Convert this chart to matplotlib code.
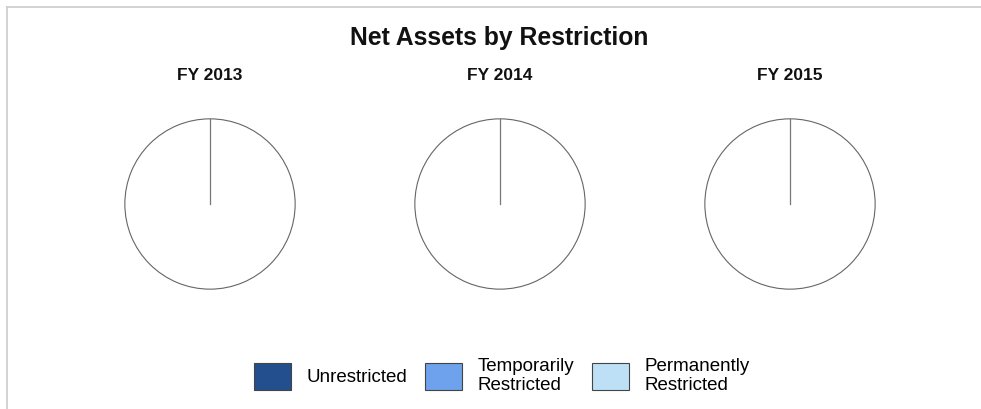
import numpy as np
import matplotlib
matplotlib.use("Agg")
import matplotlib.pyplot as plt
from matplotlib.patches import Patch
from matplotlib.lines import Line2D

plt.rcParams['font.family'] = ['Liberation Sans', 'DejaVu Sans']

# ---- data ----
years = ['FY 2013', 'FY 2014', 'FY 2015']
categories = ['Unrestricted', 'Temporarily\nRestricted', 'Permanently\nRestricted']
unrestricted = [0, 0, 0]
temporarily_restricted = [0, 0, 0]
permanently_restricted = [0, 0, 0]
colors = ['#234f8e', '#6ea2ec', '#bee0f7']

W, H = 981, 409
fig = plt.figure(figsize=(W / 100, H / 100), dpi=100)

# frame lines (top and left)
fig.add_artist(Line2D([7 / W, 1], [1 - 7 / H, 1 - 7 / H], color='#cccccc', lw=1.2))
fig.add_artist(Line2D([7 / W, 7 / W], [0, 1 - 7 / H], color='#cccccc', lw=1.2))

fig.text(499 / W, 1 - 38 / H, 'Net Assets by Restriction', ha='center', va='center',
         fontsize=17.8, fontweight='bold', color='#111111')

centers = [210, 500, 790]
cy, r = 204, 86
for i, (yr, cx) in enumerate(zip(years, centers)):
    ax = fig.add_axes([(cx - r) / W, (H - cy - r) / H, 2 * r / W, 2 * r / H])
    vals = [unrestricted[i], temporarily_restricted[i], permanently_restricted[i]]
    if sum(vals) > 0:
        ax.pie(vals, colors=colors, startangle=90, counterclock=False,
               wedgeprops=dict(edgecolor='#555555', linewidth=0.8))
    else:
        wedges, _ = ax.pie([1], colors=['white'], startangle=90,
                           wedgeprops=dict(edgecolor='#666666', linewidth=0.8))
        w = wedges[0]
        (x0, y0), rr, th = w.center, w.r, np.deg2rad(w.theta1)
        ax.plot([x0, x0 + rr * np.cos(th)], [y0, y0 + rr * np.sin(th)],
                color='#777777', lw=0.9)
    ax.set_xlim(-1.01, 1.01)
    ax.set_ylim(-1.01, 1.01)
    ax.set_aspect('equal')
    ax.axis('off')
    fig.text(cx / W, 1 - 76 / H, yr, ha='center', va='center',
             fontsize=12.5, fontweight='bold', color='#111111')

handles = [Patch(facecolor=c, edgecolor='#444444', linewidth=0.8) for c in colors]
fig.legend(handles, categories, loc='center', bbox_to_anchor=(502 / W, 1 - 376 / H),
           ncol=3, frameon=False, fontsize=13.5, handlelength=1.95, handleheight=1.8,
           handletextpad=0.85, columnspacing=0.95, labelspacing=0.0)

fig.savefig('out.png', dpi=100, facecolor='white')
